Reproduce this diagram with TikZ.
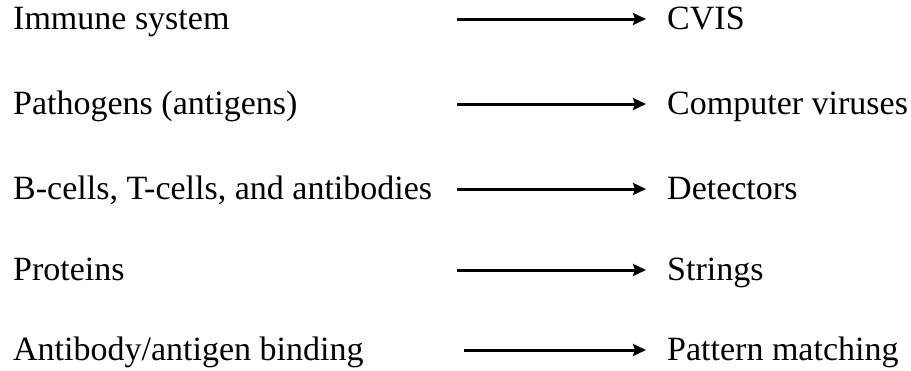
\documentclass[tikz,border=0pt]{standalone}
\usepackage{fontspec}
\setmainfont{Liberation Serif}
\usetikzlibrary{arrows.meta}
\begin{document}
\begin{tikzpicture}[x=1pt,y=1pt,
  lbl/.style={anchor=base west,inner sep=0pt,font=\fontsize{34}{40}\selectfont},
  arr/.style={line width=3pt,-{Stealth[length=13pt,width=12pt,inset=2pt]},shorten >=21pt}]
\useasboundingbox[fill=white] (0,0) rectangle (911,-370);
% rows: arrow y, baseline = arrow y + 10
\node[lbl] (l1) at (13,-29) {Immune system};
\node[lbl] (r1) at (667,-29) {CVIS};
\coordinate (s1) at (457,-19);
\node[lbl] (l2) at (13,-114) {Pathogens (antigens)};
\node[lbl] (r2) at (667,-114) {Computer viruses};
\coordinate (s2) at (457,-104);
\node[lbl] (l3) at (13,-199) {B-cells, T-cells, and antibodies};
\node[lbl] (r3) at (667,-199) {Detectors};
\coordinate (s3) at (457,-189);
\node[lbl] (l4) at (13,-280) {Proteins};
\node[lbl] (r4) at (667,-280) {Strings};
\coordinate (s4) at (457,-270);
\node[lbl] (l5) at (13,-360) {Antibody/antigen binding};
\node[lbl] (r5) at (667,-360) {Pattern matching};
\coordinate (s5) at (464,-350);
\foreach \i in {1,...,5}{
  \draw[arr] (s\i) -- (s\i -| r\i.west);
}
\end{tikzpicture}
\end{document}
